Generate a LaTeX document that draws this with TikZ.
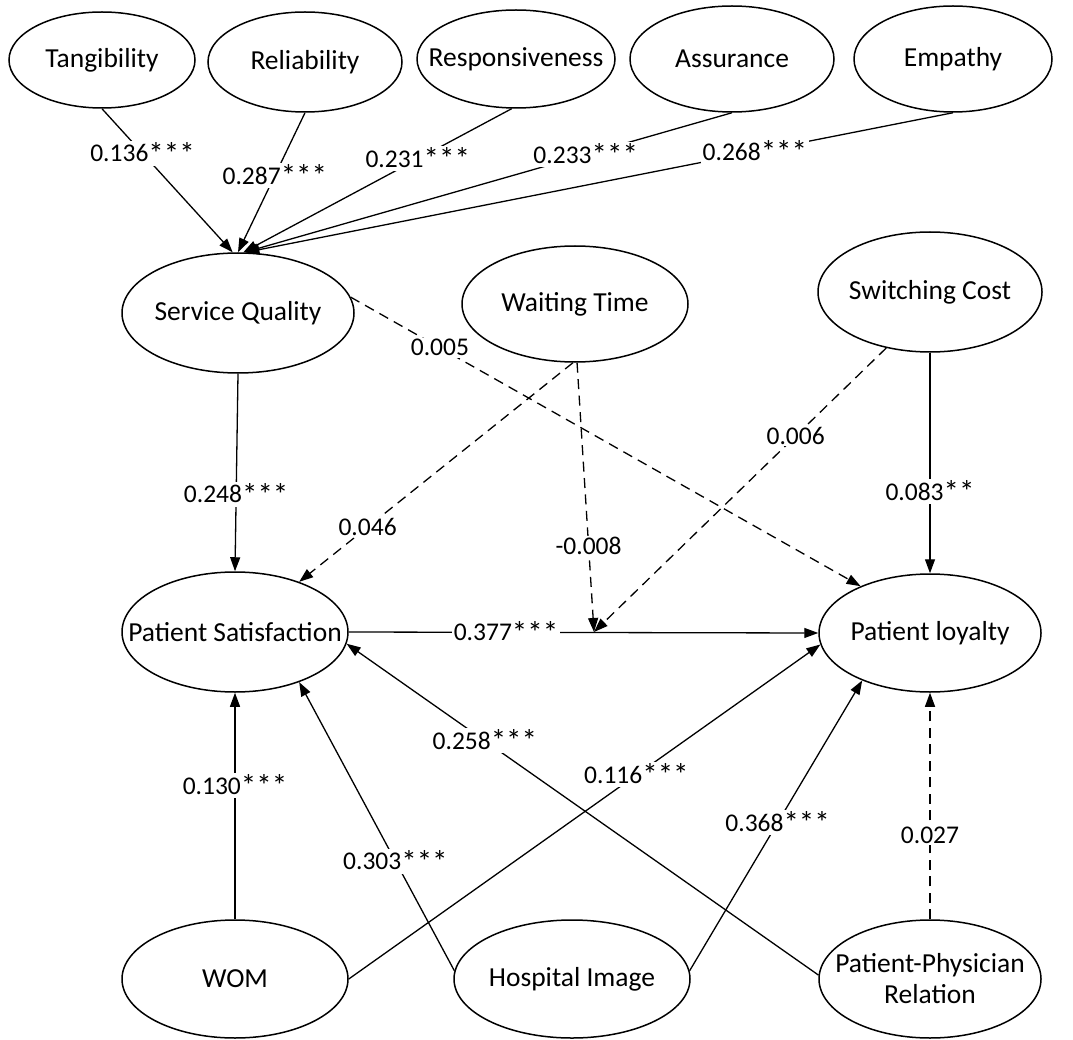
\documentclass[tikz,border=0pt]{standalone}
\usepackage{fontspec}
\setmainfont{Carlito}
\usetikzlibrary{arrows.meta,shapes.geometric}
\newcommand\sgstar[1]{\raisebox{-2.5pt}{\fontsize{31}{31}\selectfont #1}}
\begin{document}
\begin{tikzpicture}[x=1pt,y=-1pt,
  lv/.style n args={2}{ellipse, draw, line width=1.5pt, inner sep=0pt,
    minimum width=#1, minimum height=#2},
  every label/.append style={font=\fontsize{27.5}{31}\selectfont, inner sep=0pt, align=center},
  lab/.style={fill=white, inner sep=1.5pt, font=\fontsize{25.5}{28}\selectfont},
  arr/.style={-{Triangle[length=14pt,width=10pt]}, line width=1.3pt},
  dsh/.style={arr, dash pattern=on 10pt off 6.5pt}
]
\useasboundingbox (0,0) rectangle (1073,1040);

% top dimensions
\node[lv={186}{96}, label=center:Tangibility] (tang) at (102,60) {};
\node[lv={194}{100}, label=center:Reliability] (rel) at (305,62) {};
\node[lv={198}{98}, label=center:Responsiveness] (resp) at (516,59) {};
\node[lv={204}{106}, label=center:Assurance] (assu) at (732,59) {};
\node[lv={198}{106}, label=center:Empathy] (emp) at (953,59) {};

% middle row
\node[lv={232}{120}, label=center:Service Quality] (sq) at (238,313) {};
\node[lv={226}{116}, label=center:Waiting Time] (wt) at (575,304) {};
\node[lv={224}{120}, label=center:Switching Cost] (sc) at (930,292) {};

% outcomes
\node[lv={226}{120}, label=center:Patient Satisfaction] (ps) at (235,632) {};
\node[lv={222}{118}, label=center:Patient loyalty] (pl) at (930,633) {};

% bottom row
\node[lv={226}{118}, label=center:WOM] (wom) at (235,979) {};
\node[lv={236}{118}, label=center:Hospital Image] (hi) at (572,979) {};
\node[lv={222}{118}, label=center:Patient-Physician\\Relation] (ppr) at (930,979) {};

% dimensions -> service quality
\draw[arr] (tang.south) -- node[lab,pos=0.31]{0.136\sgstar{***}} (sq.95);
\draw[arr] (rel.south) -- node[lab,pos=0.45]{0.287\sgstar{***}} (sq.north);
\draw[arr] (resp.-95) -- node[lab,pos=0.35]{0.231\sgstar{***}} (sq.85);
\draw[arr] (assu.south) -- node[lab,pos=0.30]{0.233\sgstar{***}} (sq.84);
\draw[arr] (emp.south) -- node[lab,pos=0.28]{0.268\sgstar{***}} (sq.83);

% service quality
\draw[arr] (sq.south) -- node[lab,pos=0.61]{0.248\sgstar{***}} (ps.north);
\draw[dsh] (sq.8) -- node[lab,pos=0.175]{0.005} (pl.146);

% main path and moderation point
\draw[arr] (ps.east) -- node[lab,pos=0.335]{0.377\sgstar{***}} (pl.west);
\coordinate (J) at (594,632);

% waiting time
\draw[dsh] (wt.-92) -- node[lab,pos=0.75]{0.046} (ps.38);
\draw[dsh] (wt.-88) -- node[lab,pos=0.68]{-0.008} (J);

% switching cost
\draw[dsh] (sc.-128) -- node[lab,pos=0.31]{0.006} (J);
\draw[arr] (sc.south) -- node[lab,pos=0.63]{0.083\sgstar{**}} (pl.north);

% bottom row
\draw[arr] (wom.north) -- node[lab,pos=0.59]{0.130\sgstar{***}} (ps.south);
\draw[arr] (wom.east) -- node[lab,pos=0.61]{0.116\sgstar{***}} (pl.186);
\draw[arr] (hi.176) -- node[lab,pos=0.38]{0.303\sgstar{***}} (ps.-38);
\draw[arr] (hi.4) -- node[lab,pos=0.51]{0.368\sgstar{***}} (pl.-145);
\draw[arr] (ppr.178) -- node[lab,pos=0.707]{0.258\sgstar{***}} (ps.-6);
\draw[dsh] (ppr.north) -- node[lab,pos=0.37]{0.027} (pl.south);
\end{tikzpicture}
\end{document}
